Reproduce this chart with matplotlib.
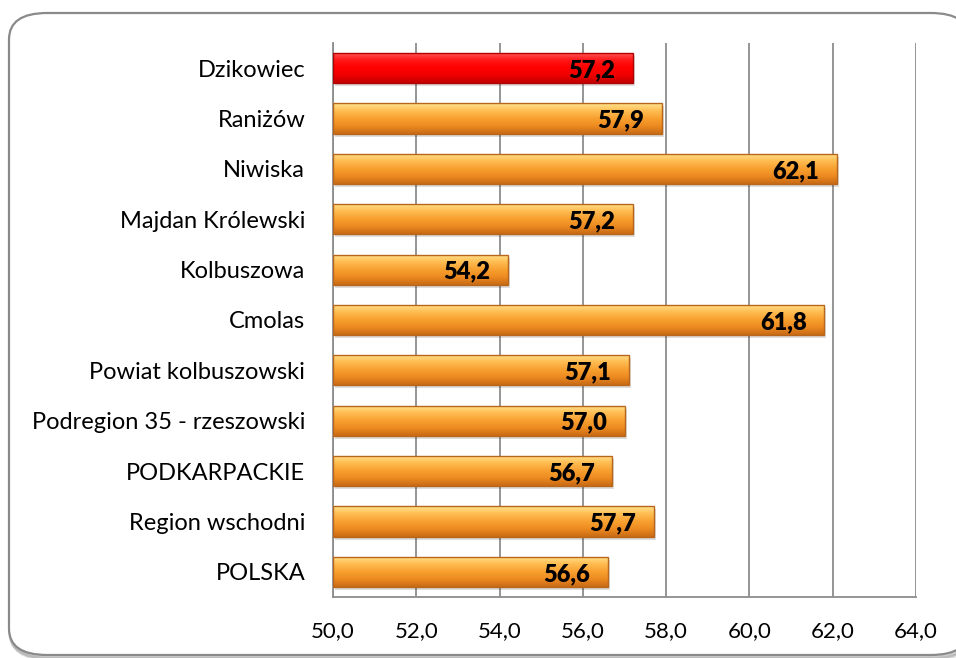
import numpy as np
import matplotlib
matplotlib.use('Agg')
import matplotlib.pyplot as plt
from matplotlib.patches import FancyBboxPatch
from matplotlib.colors import LinearSegmentedColormap

plt.rcParams['font.family'] = ['Lato', 'DejaVu Sans']

categories = ['Dzikowiec', 'Raniżów', 'Niwiska', 'Majdan Królewski', 'Kolbuszowa',
              'Cmolas', 'Powiat kolbuszowski', 'Podregion 35 - rzeszowski',
              'PODKARPACKIE', 'Region wschodni', 'POLSKA']
values = [57.2, 57.9, 62.1, 57.2, 54.2, 61.8, 57.1, 57.0, 56.7, 57.7, 56.6]
xticks = [50, 52, 54, 56, 58, 60, 62, 64]

fig = plt.figure(figsize=(9.56, 6.58), dpi=100)

# rounded frame with soft shadow
box = dict(boxstyle='round,pad=0,rounding_size=0.04', transform=fig.transFigure)
for off, a in [(4, 0.10), (2.5, 0.18)]:
    fig.patches.append(FancyBboxPatch((9 / 956 + off / 956 * 0.5, 3 / 658 - off / 658),
                                      960 / 956, 642 / 658, fc='none',
                                      ec=(0, 0, 0, a), lw=3, zorder=-3, **box))
fig.patches.append(FancyBboxPatch((9 / 956, 3 / 658), 960 / 956, 642 / 658,
                                  fc='white', ec='#8a8a8a', lw=1.6, zorder=-2, **box))

ax = fig.add_axes([333 / 956, 61 / 658, 583 / 956, 554 / 658])
ax.set_facecolor('none')

y = np.arange(len(categories))

orange = LinearSegmentedColormap.from_list('o', ['#ffe38f', '#ffbd52', '#f8a030', '#ec8a20', '#c86a16'])
red = LinearSegmentedColormap.from_list('r', ['#ff5a5a', '#ff1a1a', '#ff0000', '#f00000', '#c00000'])
grad = np.linspace(0, 1, 100).reshape(-1, 1)

for i, v in enumerate(values):
    # shadow
    ax.barh(i + 0.06, v - 50, left=50.05, height=0.6, color=(0, 0, 0, 0.13), lw=0, zorder=2)
    edge = '#b00000' if i == 0 else '#b8661c'
    bar = ax.barh(i, v - 50, left=50, height=0.6, color='none', edgecolor=edge, lw=1, zorder=4)[0]
    im = ax.imshow(grad, cmap=red if i == 0 else orange, aspect='auto',
                   extent=[50, v, i + 0.3, i - 0.3], zorder=3)
    im.set_clip_path(bar)
    ax.text(v - 0.42, i + 0.04, f'{v:.1f}'.replace('.', ','), ha='right', va='center',
            fontsize=17, fontweight='heavy', color='black', zorder=5)

ax.set_xlim(50, 64)
ax.set_ylim(len(categories) - 0.5, -0.5)
ax.set_xticks(xticks)
ax.set_xticklabels([f'{t:.1f}'.replace('.', ',') for t in xticks], fontsize=16)
ax.set_yticks(y)
ax.set_yticklabels(categories, fontsize=17)
ax.tick_params(axis='both', length=0)
ax.tick_params(axis='y', pad=20)
ax.tick_params(axis='x', pad=17)
ax.grid(axis='x', color='#8c8c8c', lw=1.3, zorder=1)
ax.set_axisbelow(True)
for s in ['top', 'right']:
    ax.spines[s].set_visible(False)
ax.spines['left'].set_color('#8c8c8c')
ax.spines['bottom'].set_color('#8c8c8c')
ax.spines['left'].set_linewidth(1.3)
ax.spines['bottom'].set_linewidth(1.3)

fig.savefig('out.png', dpi=100)
